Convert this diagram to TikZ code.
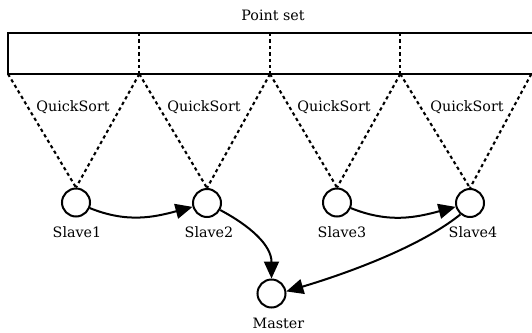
\documentclass[tikz,border=0pt]{standalone}
\usepackage{fontspec}
\setmainfont{DejaVu Serif}
\usetikzlibrary{arrows.meta}
\begin{document}
\begin{tikzpicture}[x=1pt,y=-1pt,
  txt/.style={font=\fontsize{14.3}{16}\selectfont, inner sep=0pt, anchor=base},
  proc/.style={circle, draw, line width=2pt, minimum size=28pt, inner sep=0pt},
  split/.style={line width=2.1pt, dash pattern=on 3.3pt off 3.1pt},
  flow/.style={line width=2pt, -{Triangle[length=17pt,width=15pt]}}]
\useasboundingbox (0,0) rectangle (532,332);
% point set
\node[txt] (ps) at (273,20) {Point set};
\coordinate (c0) at (8,74);
\coordinate (c1) at (139.3,74);
\coordinate (c2) at (270,74);
\coordinate (c3) at (400.3,74);
\coordinate (c4) at (531.3,74);
\coordinate (t1) at (139.3,33);
\coordinate (t2) at (270,33);
\coordinate (t3) at (400.3,33);
\draw[line width=2pt] (534,33) -- (8,33) -- (8,74) -- (534,74);
\draw[split] (t1) -- (c1);
\draw[split] (t2) -- (c2);
\draw[split] (t3) -- (c3);
% slaves
\node[proc] (s1) at (76,202.5) {};
\node[proc] (s2) at (207,203) {};
\node[proc] (s3) at (337,202.5) {};
\node[proc] (s4) at (470,203) {};
\node[proc] (m) at (271.5,293.5) {};
\node[txt] (l1) at (77,237) {Slave1};
\node[txt] (l2) at (209,237) {Slave2};
\node[txt] (l3) at (342,237) {Slave3};
\node[txt] (l4) at (473,237) {Slave4};
\node[txt] (lm) at (278.5,328) {Master};
% quicksort
\node[txt] (q1) at (73,111.5) {QuickSort};
\node[txt] (q2) at (204,111.5) {QuickSort};
\node[txt] (q3) at (334,111.5) {QuickSort};
\node[txt] (q4) at (467,111.5) {QuickSort};
\draw[split] (c0) -- (s1.north);
\draw[split] (c1) -- (s1.north);
\draw[split] (c1) -- (s2.north);
\draw[split] (c2) -- (s2.north);
\draw[split] (c2) -- (s3.north);
\draw[split] (c3) -- (s3.north);
\draw[split] (c3) -- (s4.north);
\draw[split] (c4) -- (s4.north);
% flows
\draw[flow] (s1) to[out=-22, in=195] (s2);
\draw[flow] (s3) to[out=-22, in=195] (s4);
\draw[flow] (s2) to[out=-28, in=90] (m);
\draw[flow] (s4.-130) .. controls (416,250) and (335,277) .. (m.8);
\end{tikzpicture}
\end{document}
